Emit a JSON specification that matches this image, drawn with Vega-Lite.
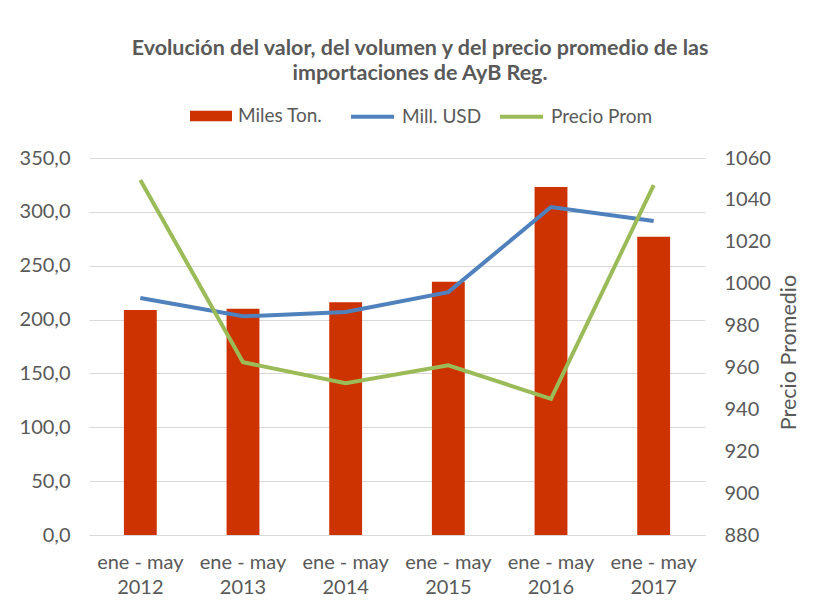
{
  "$schema": "https://vega.github.io/schema/vega-lite/v6.json",
  "width": 616,
  "height": 377,
  "autosize": {"type": "none"},
  "padding": {"left": 89, "top": 158, "right": 110, "bottom": 66},
  "background": "white",
  "config": {
    "font": "Lato",
    "view": {"stroke": null},
    "axis": {"labelFont": "Lato", "labelColor": "#595959", "labelFontSize": 20, "titleColor": "#595959", "titleFont": "Lato"},
    "legend": {"labelFont": "Lato", "labelColor": "#595959", "labelFontSize": 19}
  },
  "title": {
    "text": ["Evolución del valor, del volumen y del precio promedio de las", "importaciones de AyB Reg."],
    "fontSize": 21.5,
    "fontWeight": "bold",
    "color": "#595959",
    "anchor": "middle",
    "dx": 23,
    "offset": 9,
    "lineHeight": 25
  },
  "data": {
    "values": [
      {"anio": "2012", "ton": 209, "usd": 220, "precio": 1049.5},
      {"anio": "2013", "ton": 210, "usd": 203, "precio": 962.5},
      {"anio": "2014", "ton": 216, "usd": 207, "precio": 952.5},
      {"anio": "2015", "ton": 235, "usd": 225.5, "precio": 961},
      {"anio": "2016", "ton": 323, "usd": 304.5, "precio": 945},
      {"anio": "2017", "ton": 277, "usd": 291.5, "precio": 1047}
    ]
  },
  "encoding": {
    "x": {
      "field": "anio",
      "type": "nominal",
      "scale": {"paddingInner": 0, "paddingOuter": 0},
      "axis": {
        "title": null,
        "labelExpr": "['ene - may', datum.label]",
        "labelAngle": 0,
        "ticks": false,
        "domainColor": "#D9D9D9",
        "labelPadding": 17,
        "labelLineHeight": 25
      }
    }
  },
  "layer": [
    {
      "encoding": {
        "y": {
          "type": "quantitative",
          "scale": {"domain": [0, 350], "nice": false, "zero": true},
          "axis": {
            "title": null,
            "values": [0, 50, 100, 150, 200, 250, 300, 350],
            "labelExpr": "replace(format(datum.value, '.1f'), '.', ',')",
            "domain": false,
            "ticks": false,
            "gridColor": "#D9D9D9",
            "labelPadding": 19
          }
        }
      },
      "layer": [
        {
          "mark": {"type": "bar", "width": {"band": 0.32}},
          "encoding": {
            "y": {"field": "ton", "type": "quantitative"},
            "fill": {
              "datum": "Miles Ton.",
              "scale": {"range": ["#CC3300"]},
              "legend": {
                "orient": "none",
                "legendX": 101,
                "legendY": -63,
                "title": null,
                "symbolType": "M-1,-0.25H1V0.25H-1Z",
                "symbolSize": 1764,
                "symbolStrokeWidth": 0,
                "labelOffset": 6,
                "padding": 0
              }
            }
          }
        },
        {
          "mark": {"type": "line", "strokeWidth": 4},
          "encoding": {
            "y": {"field": "usd", "type": "quantitative"},
            "stroke": {
              "datum": "Mill. USD",
              "scale": {"domain": ["Mill. USD", "Precio Prom"], "range": ["#4F81BD", "#9BBB59"]},
              "legend": {
                "orient": "none",
                "legendX": 260,
                "legendY": -65,
                "title": null,
                "direction": "horizontal",
                "symbolType": "stroke",
                "symbolSize": 1849,
                "symbolStrokeWidth": 4,
                "labelOffset": 6,
                "columnPadding": 10,
                "padding": 0
              }
            }
          }
        }
      ]
    },
    {
      "mark": {"type": "line", "strokeWidth": 4},
      "encoding": {
        "y": {
          "field": "precio",
          "type": "quantitative",
          "scale": {"domain": [880, 1060], "nice": false, "zero": false},
          "axis": {
            "orient": "right",
            "title": "Precio Promedio",
            "values": [880, 900, 920, 940, 960, 980, 1000, 1020, 1040, 1060],
            "format": "d",
            "grid": false,
            "domain": false,
            "ticks": false,
            "labelPadding": 19,
            "titleFontSize": 21.5,
            "titleFontWeight": "normal",
            "titleAngle": 270,
            "titlePadding": 30,
            "titleY": 194
          }
        },
        "stroke": {"datum": "Precio Prom"}
      }
    }
  ],
  "resolve": {"scale": {"y": "independent"}}
}
